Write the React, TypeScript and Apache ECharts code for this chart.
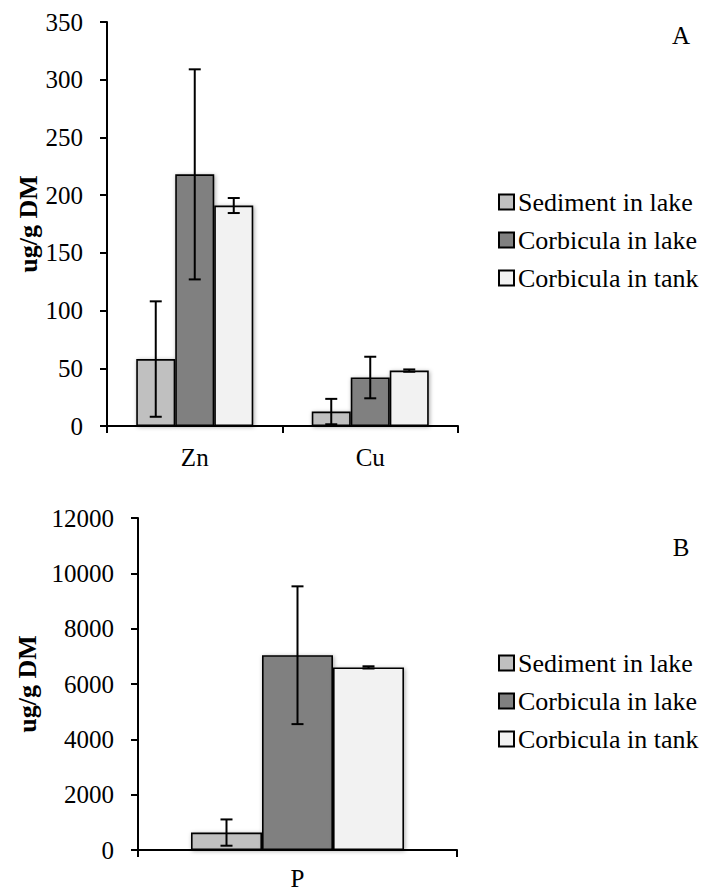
import React, { useEffect, useRef } from "react";
import * as echarts from "echarts";

const seriesNames = ["Sediment in lake", "Corbicula in lake", "Corbicula in tank"];
const seriesColors = ["#c0c0c0", "#808080", "#f2f2f2"];

const topCategories = ["Zn", "Cu"];
const topSediment = [58, 12.5];
const topSedimentErr = [50, 11];
const topLake = [218, 42];
const topLakeErr = [91, 18];
const topTank = [191, 48];
const topTankErr = [6.5, 1];
const topTicks = [0, 50, 100, 150, 200, 250, 300, 350];

const bottomCategories = ["P"];
const bottomSediment = [630];
const bottomSedimentErr = [475];
const bottomLake = [7040];
const bottomLakeErr = [2490];
const bottomTank = [6600];
const bottomTankErr = [40];
const bottomTicks = [0, 2000, 4000, 6000, 8000, 10000, 12000];

const FONT = "'Liberation Serif', 'Times New Roman', serif";

export default function App() {
  const ref = useRef<HTMLDivElement>(null);
  useEffect(() => {
    if (!ref.current) return;
    const chart = echarts.init(ref.current, null, { renderer: "svg" });

    const topVals = [topSediment, topLake, topTank];
    const topErrs = [topSedimentErr, topLakeErr, topTankErr];
    const botVals = [bottomSediment, bottomLake, bottomTank];
    const botErrs = [bottomSedimentErr, bottomLakeErr, bottomTankErr];

    const barStyle = (i: number) => ({
      color: seriesColors[i],
      borderColor: "#000",
      borderWidth: 1.6,
      shadowBlur: 4,
      shadowColor: "rgba(0,0,0,0.35)",
      shadowOffsetX: 1,
      shadowOffsetY: 1,
    });

    const bars = (vals: number[][], gridIdx: number, bw: number) =>
      vals.map((v, i) => ({
        name: seriesNames[i],
        type: "bar",
        xAxisIndex: gridIdx,
        yAxisIndex: gridIdx,
        data: v,
        barWidth: bw,
        barGap: "0%",
        itemStyle: barStyle(i),
        emphasis: { disabled: true },
      }));

    const errSeries = (vals: number[][], errs: number[][], gridIdx: number, bw: number, cap: number) => {
      const data: number[][] = [];
      vals.forEach((arr, k) =>
        arr.forEach((v, c) => data.push([c, v, errs[k][c], k]))
      );
      return {
        type: "custom",
        xAxisIndex: gridIdx,
        yAxisIndex: gridIdx,
        data,
        encode: { x: 0, y: 1 },
        z: 10,
        silent: true,
        renderItem: (params: any, api: any) => {
          const cat = api.value(0);
          const v = api.value(1);
          const e = api.value(2);
          const k = api.value(3);
          const c = api.coord([cat, v]);
          const x = c[0] + (k - 1) * bw;
          const yt = api.coord([cat, v + e])[1];
          const yb = api.coord([cat, Math.max(v - e, 0)])[1];
          const st = { stroke: "#000", lineWidth: 2 };
          return {
            type: "group",
            children: [
              { type: "line", shape: { x1: x, y1: yt, x2: x, y2: yb }, style: st },
              { type: "line", shape: { x1: x - cap / 2, y1: yt, x2: x + cap / 2, y2: yt }, style: st },
              { type: "line", shape: { x1: x - cap / 2, y1: yb, x2: x + cap / 2, y2: yb }, style: st },
            ],
          };
        },
      };
    };

    const axisLine = { show: true, lineStyle: { color: "#000", width: 2 } };
    const axisTick = { show: true, length: 7, lineStyle: { color: "#000", width: 2 } };

    const yAxis = (gridIdx: number, ticks: number[], gap: number) => ({
      type: "value",
      gridIndex: gridIdx,
      min: ticks[0],
      max: ticks[ticks.length - 1],
      interval: ticks[1] - ticks[0],
      axisLine,
      axisTick,
      splitLine: { show: false },
      axisLabel: {
        color: "#000",
        fontSize: 25,
        fontFamily: FONT,
        margin: 24,
        formatter: (v: number) => String(v),
      },
      name: "ug/g DM",
      nameLocation: "middle",
      nameGap: gap,
      nameTextStyle: { color: "#000", fontSize: 26, fontWeight: "bold", fontFamily: FONT },
    });

    const xAxis = (gridIdx: number, cats: string[], margin: number) => ({
      type: "category",
      gridIndex: gridIdx,
      data: cats,
      axisLine,
      axisTick,
      axisLabel: { color: "#000", fontSize: 25, fontFamily: FONT, margin },
    });

    const legend = (top: number) => ({
      orient: "vertical",
      left: 493,
      top,
      itemWidth: 15,
      itemHeight: 15,
      itemGap: 12,
      icon: "rect",
      data: seriesNames,
      selectedMode: false,
      textStyle: { color: "#000", fontSize: 26, fontFamily: FONT, padding: [0, 0, 0, -1] },
    });

    chart.setOption({
      animation: false,
      grid: [
        { left: 107, top: 22, width: 351, height: 404 },
        { left: 138, top: 518, width: 319, height: 334 },
      ],
      xAxis: [xAxis(0, topCategories, 19), xAxis(1, bottomCategories, 16)],
      yAxis: [yAxis(0, topTicks, 66), yAxis(1, bottomTicks, 98)],
      legend: [legend(184), legend(645)],
      graphic: [
        { type: "text", x: 681, y: 35, style: { text: "A", fontSize: 25, fontFamily: FONT, fill: "#000", align: "center", verticalAlign: "middle" } },
        { type: "text", x: 681, y: 547, style: { text: "B", fontSize: 25, fontFamily: FONT, fill: "#000", align: "center", verticalAlign: "middle" } },
      ],
      series: [
        ...bars(topVals, 0, 39),
        ...bars(botVals, 1, 71),
        errSeries(topVals, topErrs, 0, 39, 12),
        errSeries(botVals, botErrs, 1, 71, 12),
      ],
    } as any);
    return () => chart.dispose();
  }, []);
  return (
    <div
      ref={ref}
      style={{ position: "absolute", left: 0, top: 0, width: 705, height: 891 }}
    />
  );
}
